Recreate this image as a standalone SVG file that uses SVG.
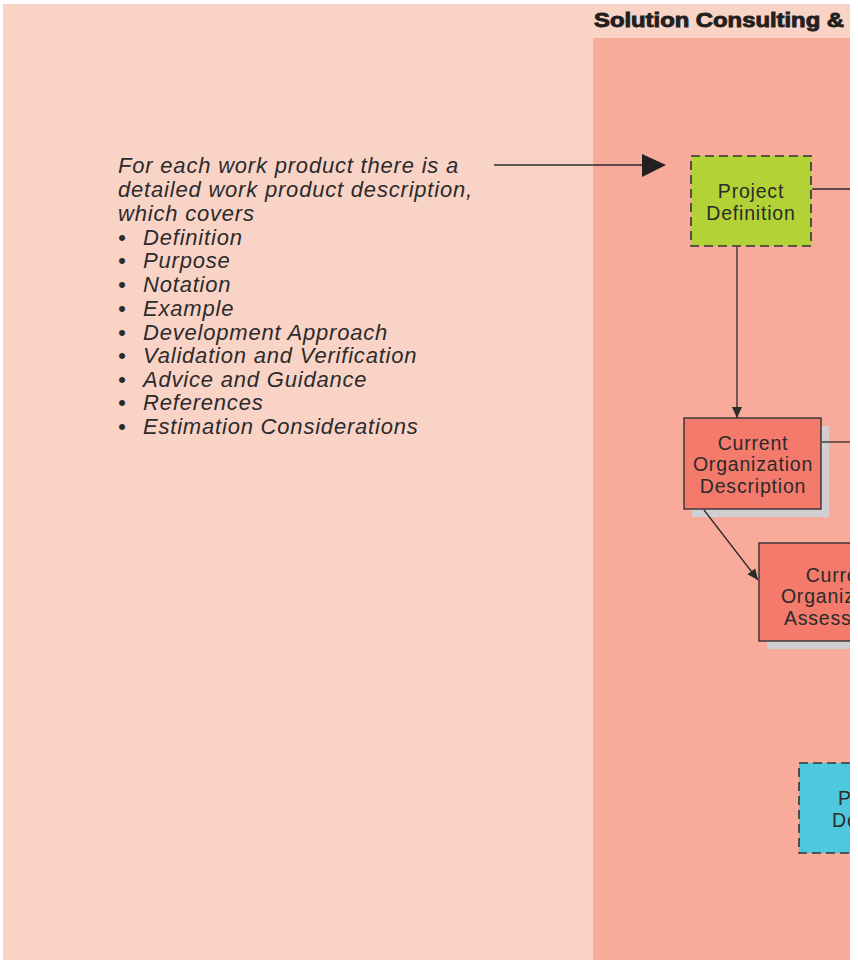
<svg xmlns="http://www.w3.org/2000/svg" width="858" height="966" viewBox="0 0 858 966">
<defs>
<style>
.lbl{font-family:"Liberation Sans",Arial,sans-serif;font-size:19.5px;letter-spacing:0.8px;fill:#2b2b2b;text-anchor:middle}
.note{font-family:"Liberation Sans",Arial,sans-serif;font-size:22px;letter-spacing:0.8px;font-style:italic;fill:#2b2b2b}
.ln{stroke:#2b2b2b;stroke-width:1.3;fill:none}
.dash{stroke:#333;stroke-width:1.6;stroke-dasharray:9 5}
.solid{stroke:#333;stroke-width:1.4}
.shadow{fill:#d0d0d2}
</style>
<marker id="ah" markerWidth="12" markerHeight="12" refX="11" refY="6" orient="auto" markerUnits="userSpaceOnUse">
<path d="M0,1 L11,6 L0,11 Z" fill="#2b2b2b"/>
</marker>
<clipPath id="clip"><rect x="0" y="0" width="850" height="966"/></clipPath>
</defs>
<rect x="0" y="0" width="858" height="966" fill="#ffffff"/>
<rect x="3" y="4" width="847" height="956" fill="#fad3c7"/>
<g id="lane">
<rect x="593" y="38" width="257" height="922" fill="#f8ab9a"/>
<text x="594" y="27" font-family="'Liberation Sans',Arial,sans-serif" font-size="20" font-weight="900" fill="#231f20" stroke="#231f20" stroke-width="0.9" textLength="250" lengthAdjust="spacingAndGlyphs">Solution Consulting &amp;</text>
</g>
<g id="note">
<text class="note" x="118" y="173">For each work product there is a</text>
<text class="note" x="118" y="197">detailed work product description,</text>
<text class="note" x="118" y="221">which covers</text>
<g class="note">
<text x="118" y="245">•</text><text x="143" y="245">Definition</text>
<text x="118" y="268">•</text><text x="143" y="268">Purpose</text>
<text x="118" y="292">•</text><text x="143" y="292">Notation</text>
<text x="118" y="316">•</text><text x="143" y="316">Example</text>
<text x="118" y="340">•</text><text x="143" y="340">Development Approach</text>
<text x="118" y="363">•</text><text x="143" y="363">Validation and Verification</text>
<text x="118" y="387">•</text><text x="143" y="387">Advice and Guidance</text>
<text x="118" y="410">•</text><text x="143" y="410">References</text>
<text x="118" y="434">•</text><text x="143" y="434">Estimation Considerations</text>
</g>
</g>
<g id="project-definition">
<rect class="dash" x="691" y="156" width="120" height="90" fill="#b3d235"/>
<text class="lbl" x="751" y="198">Project</text>
<text class="lbl" x="751" y="220">Definition</text>
</g>
<g id="current-organization-description">
<rect class="shadow" x="692" y="426" width="137" height="91"/>
<rect class="solid" x="684" y="418" width="137" height="91" fill="#f47a6c"/>
<text class="lbl" x="753" y="450">Current</text>
<text class="lbl" x="753" y="471">Organization</text>
<text class="lbl" x="753" y="493">Description</text>
</g>
<g id="current-organization-assessment" clip-path="url(#clip)">
<rect class="shadow" x="767" y="551" width="160" height="98"/>
<rect class="solid" x="759" y="543" width="160" height="98" fill="#f47a6c"/>
<text class="lbl" x="841" y="582">Current</text>
<text class="lbl" x="841" y="603">Organization</text>
<text class="lbl" x="841" y="625">Assessment</text>
</g>
<g id="cyan-node" clip-path="url(#clip)">
<rect class="dash" x="799" y="763" width="120" height="90" fill="#4ec8de"/>
<text class="lbl" x="838" y="805" style="text-anchor:start">P</text>
<text class="lbl" x="832" y="827" style="text-anchor:start">De</text>
</g>
<g id="connectors" clip-path="url(#clip)">
<line x1="494" y1="165" x2="644" y2="165" stroke="#2b2b2b" stroke-width="1.5"/>
<path d="M642,154 L666,165 L642,177 Z" fill="#231f20"/>
<line class="ln" x1="812" y1="189" x2="850" y2="189"/>
<line class="ln" x1="737" y1="247" x2="737" y2="418" marker-end="url(#ah)"/>
<line class="ln" x1="822" y1="442" x2="850" y2="442"/>
<line class="ln" x1="704" y1="510" x2="758" y2="580" marker-end="url(#ah)"/>
</g>
<rect x="850" y="0" width="8" height="966" fill="#ffffff"/>
</svg>
